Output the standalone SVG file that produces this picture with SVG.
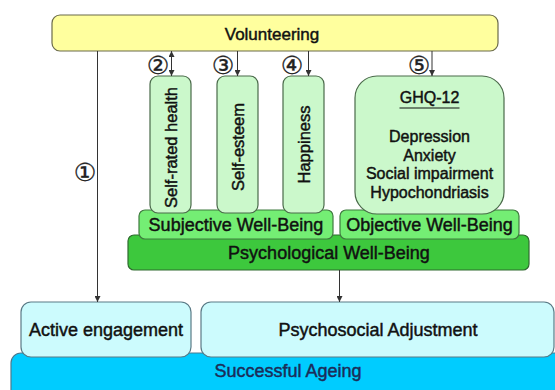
<svg xmlns="http://www.w3.org/2000/svg" width="555" height="390" viewBox="0 0 555 390">
<defs>
<style>
text{font-family:"Liberation Sans",Arial,sans-serif;fill:#111;stroke:#111;stroke-width:0.45;text-anchor:middle}
.t18{font-size:18px}
.t16{font-size:16px}
.tv{font-size:16.5px}
.num{font-family:"DejaVu Sans",sans-serif;font-size:25px;fill:#222;stroke:#222;stroke-width:0.3}
.sa{fill:#1C2C58;stroke:#1C2C58}
.yel{fill:#FFFF9E;stroke:#6B6B4A;stroke-width:1.2}
.lg{fill:#CBF8CB;stroke:#4A6A4A;stroke-width:1.2}
.mg{fill:#74EE74;stroke:#3F7A3F;stroke-width:1.2}
.dg{fill:#3DC83D;stroke:#2F6A2F;stroke-width:1.2}
.lc{fill:#CCFBFD;stroke:#5A7A86;stroke-width:1.2}
.cy{fill:#00CCFF;stroke:#4A7A90;stroke-width:1.2}
.ln{stroke:#333;stroke-width:1;fill:none}
</style>
<marker id="ah" viewBox="0 0 8 8" refX="8" refY="4" markerWidth="6" markerHeight="6" orient="auto-start-reverse" markerUnits="userSpaceOnUse">
<path d="M0,0 L8,4 L0,8 z" fill="#333"/>
</marker>
</defs>
<rect width="555" height="390" fill="#fff"/>

<g id="successful-ageing">
<rect class="cy" x="11" y="353" width="560" height="50" rx="10"/>
<text class="t18 sa" x="288" y="377">Successful Ageing</text>
</g>
<g id="active-engagement">
<rect class="lc" x="21" y="302" width="170" height="55" rx="10"/>
<text class="t18" x="106" y="336">Active engagement</text>
</g>
<g id="psychosocial-adjustment">
<rect class="lc" x="201" y="302" width="353" height="55" rx="10"/>
<text class="t18" x="378" y="336">Psychosocial Adjustment</text>
</g>

<g id="psychological-well-being">
<rect class="dg" x="128" y="235" width="401" height="35" rx="6"/>
<text class="t18" x="329" y="259">Psychological Well-Being</text>
</g>
<g id="subjective-well-being">
<rect class="mg" x="139" y="210" width="194" height="29" rx="6"/>
<text class="t18" x="236" y="231">Subjective Well-Being</text>
</g>
<g id="objective-well-being">
<rect class="mg" x="340" y="210" width="179" height="29" rx="6"/>
<text class="t18" x="429.5" y="231">Objective Well-Being</text>
</g>

<g id="self-rated-health">
<rect class="lg" x="150" y="76" width="41" height="137" rx="8"/>
<text class="tv" transform="translate(176.5,147.5) rotate(-90)">Self-rated health</text>
</g>
<g id="self-esteem">
<rect class="lg" x="217" y="76" width="41" height="137" rx="8"/>
<text class="tv" transform="translate(243.5,147) rotate(-90)">Self-esteem</text>
</g>
<g id="happiness">
<rect class="lg" x="283" y="76" width="41" height="137" rx="8"/>
<text class="tv" transform="translate(309.5,144.5) rotate(-90)">Happiness</text>
</g>
<g id="ghq-12">
<rect class="lg" x="355" y="76" width="149" height="138" rx="22"/>
<text class="t16" x="429.5" y="103">GHQ-12</text>
<line x1="399.5" y1="108" x2="459.5" y2="108" stroke="#111" stroke-width="1.2"/>
<text class="t16" x="429.5" y="142">Depression</text>
<text class="t16" x="429.5" y="160.5">Anxiety</text>
<text class="t16" x="429.5" y="179">Social impairment</text>
<text class="t16" x="429.5" y="198">Hypochondriasis</text>
</g>

<g id="volunteering">
<rect class="yel" x="52" y="15" width="446" height="36" rx="8"/>
<text x="272" y="40" style="font-size:17px">Volunteering</text>
</g>

<g id="connectors">
<line class="ln" x1="97.5" y1="51" x2="97.5" y2="302" marker-end="url(#ah)"/>
<line class="ln" x1="171.5" y1="51" x2="171.5" y2="76" marker-start="url(#ah)" marker-end="url(#ah)"/>
<line class="ln" x1="237.5" y1="51" x2="237.5" y2="76" marker-end="url(#ah)"/>
<line class="ln" x1="308.5" y1="51" x2="308.5" y2="76" marker-end="url(#ah)"/>
<line class="ln" x1="432" y1="51" x2="432" y2="76" marker-end="url(#ah)"/>
<line class="ln" x1="339.5" y1="270" x2="339.5" y2="302" marker-end="url(#ah)"/>
<text class="num" x="85" y="181">①</text>
<text class="num" x="158" y="74">②</text>
<text class="num" x="223" y="74">③</text>
<text class="num" x="292" y="74">④</text>
<text class="num" x="419" y="74">⑤</text>
</g>
</svg>
